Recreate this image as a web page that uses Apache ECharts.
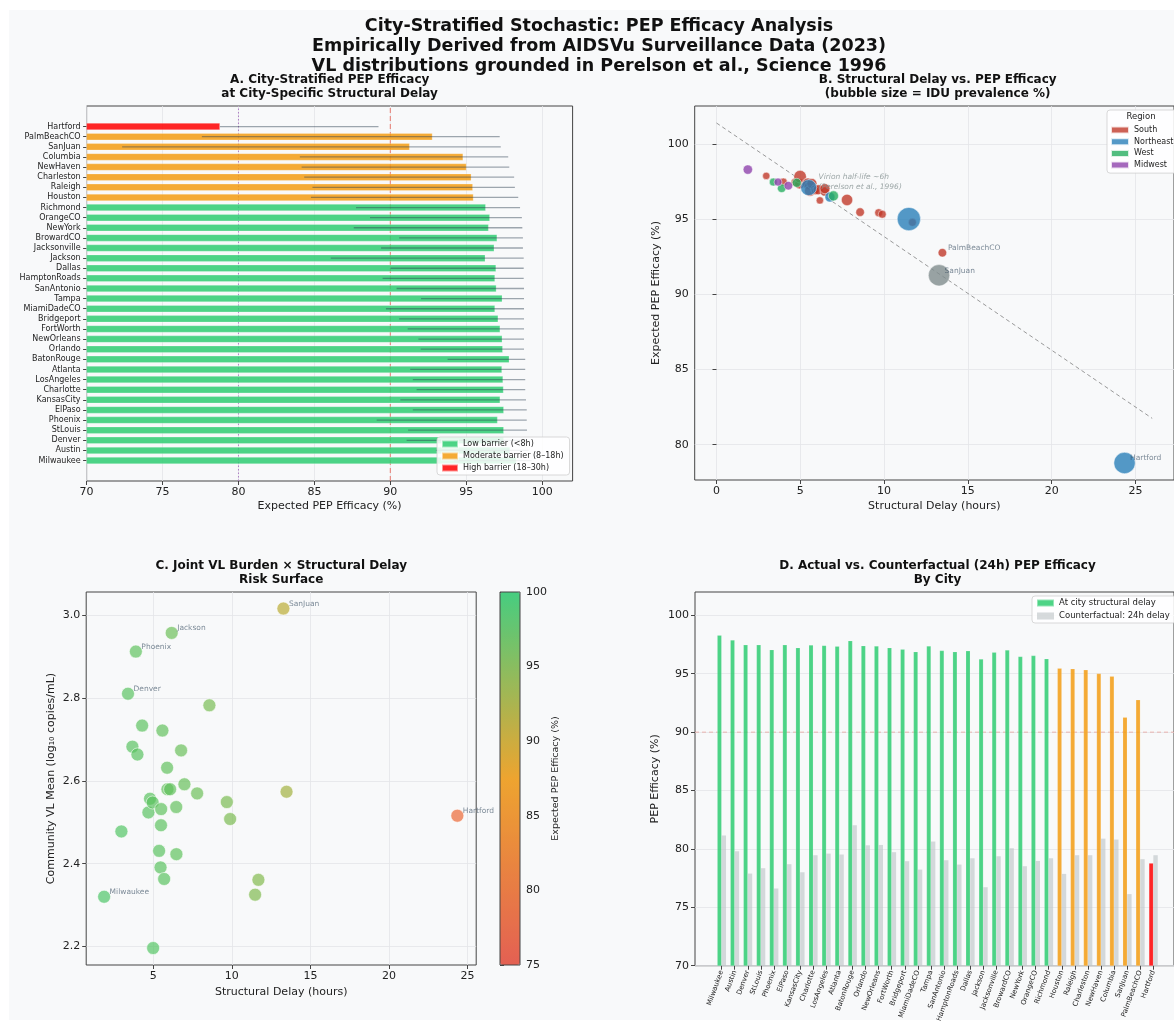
<!DOCTYPE html>
<html><head><meta charset="utf-8">
<script src="https://cdn.jsdelivr.net/npm/echarts@6/dist/echarts.min.js"></script>
<style>
html,body{margin:0;padding:0;background:#fff;overflow:hidden}
#bg{position:absolute;left:9px;top:10px;width:1165px;height:1010px;background:#f8f9fa}
#c{position:absolute;left:0;top:0;width:1174px;height:1028px}
</style>
</head><body><div id="bg"></div><div id="c"></div>
<script>
// ---------------- DATA (ordered by structural delay, ascending) ----------------
const cities = ['Milwaukee','Austin','Denver','StLouis','Phoenix','ElPaso','KansasCity','Charlotte','LosAngeles','Atlanta','BatonRouge','Orlando','NewOrleans','FortWorth','Bridgeport','MiamiDadeCO','Tampa','SanAntonio','HamptonRoads','Dallas','Jackson','Jacksonville','BrowardCO','NewYork','OrangeCO','Richmond','Houston','Raleigh','Charleston','NewHaven','Columbia','SanJuan','PalmBeachCO','Hartford'];
const delayH = [1.87,2.97,3.39,3.67,3.89,3.99,4.29,4.69,4.79,4.96,4.99,5.37,5.46,5.49,5.50,5.58,5.69,5.88,5.90,6.07,6.17,6.46,6.47,6.77,6.98,7.79,8.57,9.68,9.89,11.48,11.69,13.28,13.48,24.35];
const vlMean = [2.320,2.478,2.811,2.683,2.913,2.664,2.734,2.524,2.557,2.548,2.196,2.431,2.391,2.493,2.532,2.722,2.363,2.632,2.580,2.580,2.958,2.537,2.423,2.674,2.592,2.570,2.783,2.549,2.508,2.325,2.361,3.017,2.574,2.516];
const efficacy = [98.30,97.88,97.47,97.47,97.06,97.47,97.23,97.45,97.42,97.35,97.83,97.40,97.37,97.23,97.10,96.89,97.37,96.98,96.89,96.96,96.25,96.84,97.03,96.47,96.55,96.28,95.47,95.43,95.33,95.01,94.79,91.27,92.77,78.78];
const efficacy24h = [81.14,79.80,77.89,78.35,76.61,78.69,78.00,79.46,79.60,79.52,82.02,80.31,80.34,79.72,78.95,78.23,80.63,79.03,78.66,79.20,76.72,79.37,80.06,78.52,78.97,79.20,77.86,79.46,79.46,80.88,80.80,76.13,79.12,79.46];
const ciLow = [94.2,93.0,91.07,91.17,89.10,91.48,90.66,91.73,91.48,91.31,93.77,92.00,91.85,91.14,90.58,89.71,92.02,90.41,89.49,90.02,86.08,89.39,90.58,87.59,88.66,87.74,84.77,84.87,84.33,84.16,84.04,72.34,77.59,78.78];
const ciHigh = [99.3,99.1,99.0,99.0,98.98,98.98,98.93,98.88,98.88,98.88,98.88,98.80,98.80,98.80,98.80,98.80,98.80,98.80,98.78,98.78,98.78,98.73,98.73,98.69,98.66,98.54,98.42,98.20,98.15,97.83,97.76,97.27,97.20,89.22];
const iduPct = [5.5,3.4,4.0,4.0,4.6,4.0,4.6,4.0,5.1,6.3,9.9,5.1,7.6,4.0,16.0,7.6,6.5,5.1,4.0,6.3,3.4,5.1,6.3,6.3,6.3,8.1,4.6,4.0,4.0,34.0,4.0,28.6,4.6,28.6];
const region = ['Midwest','South','West','Midwest','West','South','Midwest','South','West','South','South','South','South','South','Northeast','South','South','South','South','South','South','South','South','Northeast','West','South','South','South','South','Northeast','South','Other','South','Northeast'];
const thresholds = [80, 90];
const trendX = [0, 26];
const trendY = [101.4, 81.75];
const annotPos = [6.06, 97.47];
const annotText = 'Virion half-life ~6h\n(Perelson et al., 1996)';
const labelledB = ['PalmBeachCO','SanJuan','Hartford'];
const labelledC = ['SanJuan','Jackson','Phoenix','Denver','Milwaukee','Hartford'];
const barrierNames = ['Low barrier (<8h)','Moderate barrier (8–18h)','High barrier (18–30h)'];
const regionNames = ['South','Northeast','West','Midwest'];
const dNames = ['At city structural delay','Counterfactual: 24h delay'];
// tick labels
const ticksEff = [70,75,80,85,90,95,100];
const ticksDelayB = [0,5,10,15,20,25];
const ticksEffB = [80,85,90,95,100];
const ticksDelayC = [5,10,15,20,25];
const ticksVL = [2.2,2.4,2.6,2.8,3.0];
const ticksCbar = [75,80,85,90,95,100];

// ---------------- STYLE ----------------
const F = 'DejaVu Sans';
const GREEN = 'rgba(46,204,113,0.85)', ORANGE = 'rgba(243,156,18,0.85)', RED = 'rgba(255,0,0,0.85)';
const classColors = [GREEN, ORANGE, RED];
const barrierClass = d => d < 8 ? 0 : (d < 18 ? 1 : 2);
const regionColors = {South:'#c0392b', Northeast:'#2980b9', West:'#27ae60', Midwest:'#8e44ad', Other:'#7f8c8d'};
const GRIDC = '#e3e5e8';

function valAxis(gi, min, max, ticks, dec, extra) {
  return Object.assign({
    type:'value', gridIndex:gi, min:min, max:max,
    axisLine:{show:false},
    axisTick:{show:true, length:4, lineStyle:{color:'#444'}, customValues:ticks},
    axisLabel:{color:'#222', fontSize:11, fontFamily:F, margin:6, customValues:ticks, formatter:v => (+v).toFixed(dec)},
    splitLine:{show:true, lineStyle:{color:GRIDC, width:0.8}},
    nameTextStyle:{color:'#222', fontSize:11, fontFamily:F},
    nameLocation:'middle'
  }, extra || {});
}
const frame = {show:true, backgroundColor:'#f8f9fa', borderColor:'#444', borderWidth:1};

const grids = [
  Object.assign({left:86.6, top:106, width:486, height:375}, frame),          // 0 A frame
  {left:86.6, top:121.5, width:486, height:344.1, show:false},                 // 1 A bars
  Object.assign({left:694.7, top:106, width:486, height:374}, frame),          // 2 B
  Object.assign({left:86.2, top:592, width:390, height:373}, frame),           // 3 C
  {left:500, top:592, width:20, height:373, show:true, backgroundColor:'rgba(0,0,0,0)', borderColor:'#444', borderWidth:1, z:10}, // 4 colorbar
  Object.assign({left:695, top:592, width:485, height:373.7}, frame),          // 5 D frame
  {left:715.1, top:592, width:444.8, height:373.7, show:false}                 // 6 D bars
];

const xAxes = [
  valAxis(0, 70, 102, ticksEff, 0, {name:'Expected PEP Efficacy (%)', nameGap:20}),
  {type:'value', gridIndex:1, min:70, max:102, show:false},
  valAxis(2, -1.3, 27.3, ticksDelayB, 0, {name:'Structural Delay (hours)', nameGap:21}),
  valAxis(3, 0.73, 25.55, ticksDelayC, 0, {name:'Structural Delay (hours)', nameGap:22}),
  {type:'value', gridIndex:4, min:0, max:1, show:false},
  {type:'value', gridIndex:5, min:0, max:1, show:false},
  {type:'category', gridIndex:6, data:cities, axisLine:{show:false},
   axisTick:{show:true, alignWithLabel:true, interval:0, length:4, lineStyle:{color:'#444'}},
   axisLabel:{interval:0, rotate:70, fontSize:7, fontFamily:F, color:'#222', margin:5},
   splitLine:{show:false}}
];
const yAxes = [
  {type:'value', gridIndex:0, min:0, max:1, show:false},
  {type:'category', gridIndex:1, data:cities, axisLine:{show:false},
   axisTick:{show:true, alignWithLabel:true, interval:0, length:3.5, lineStyle:{color:'#444'}},
   axisLabel:{interval:0, fontSize:8, fontFamily:F, color:'#222', margin:6}, splitLine:{show:false}},
  valAxis(2, 77.65, 102.53, ticksEffB, 0, {name:'Expected PEP Efficacy (%)', nameGap:33}),
  valAxis(3, 2.155, 3.057, ticksVL, 1, {name:'Community VL Mean (log₁₀ copies/mL)', nameGap:30}),
  valAxis(4, 75, 100, ticksCbar, 0, {position:'right', splitLine:{show:false}, name:'Expected PEP Efficacy (%)', nameRotate:90, nameGap:31, nameTextStyle:{color:'#222', fontSize:9.5, fontFamily:F}}),
  valAxis(5, 70, 102, ticksEff, 0, {name:'PEP Efficacy (%)', nameGap:34}),
  {type:'value', gridIndex:6, min:70, max:102, show:false}
];

const series = [];
// ---- A: threshold lines
series.push({type:'line', xAxisIndex:0, yAxisIndex:0, data:[[thresholds[0],0],[thresholds[0],1]], symbol:'none', silent:true, z:1,
  lineStyle:{color:'rgba(155,89,182,0.75)', type:[1.5,2], width:1}});
series.push({type:'line', xAxisIndex:0, yAxisIndex:0, data:[[thresholds[1],0],[thresholds[1],1]], symbol:'none', silent:true, z:1,
  lineStyle:{color:'rgba(231,76,60,0.6)', type:[5,3], width:1.2}});
// ---- A: bars by barrier class
barrierNames.forEach((nm, k) => series.push({
  type:'bar', name:nm, xAxisIndex:1, yAxisIndex:1, barWidth:7, barGap:'-100%', z:2,
  data: efficacy.map((v, i) => barrierClass(delayH[i]) === k ? v : '-'),
  itemStyle:{color:classColors[k], borderColor:'rgba(255,255,255,0.5)', borderWidth:0.5}
}));
// ---- A: uncertainty intervals
series.push({type:'custom', xAxisIndex:1, yAxisIndex:1, silent:true, z:3, encode:{x:[0,1], y:2},
  data: cities.map((c, i) => [ciLow[i], ciHigh[i], i]),
  renderItem: (params, api) => {
    const a = api.coord([Math.max(api.value(0), 70), api.value(2)]);
    const b = api.coord([api.value(1), api.value(2)]);
    return {type:'line', shape:{x1:a[0], y1:a[1], x2:b[0], y2:b[1]}, style:{stroke:'rgba(44,62,80,0.45)', lineWidth:1.3}};
  }});
// ---- B: trend line
series.push({type:'line', xAxisIndex:2, yAxisIndex:2, data: trendX.map((x, i) => [x, trendY[i]]), symbol:'none', silent:true, z:2,
  lineStyle:{color:'rgba(120,120,120,0.75)', type:[4,3], width:1}});
// ---- B: bubbles per region
['South','Northeast','West','Midwest','Other'].forEach(r => series.push({
  type:'scatter', name:r, xAxisIndex:2, yAxisIndex:2, z:3,
  data: cities.map((c, i) => region[i] === r ? [delayH[i], efficacy[i], iduPct[i], c] : null).filter(Boolean),
  symbolSize: v => 4 * Math.sqrt(v[2]),
  itemStyle:{color:regionColors[r], opacity:0.8, borderColor:'#fff', borderWidth:0.6}
}));
// ---- B: annotation
series.push({type:'scatter', xAxisIndex:2, yAxisIndex:2, data:[annotPos], symbolSize:1, silent:true, z:5,
  itemStyle:{color:'rgba(0,0,0,0)'},
  label:{show:true, formatter:annotText, position:'right', distance:0, fontFamily:F, fontStyle:'italic', fontSize:7.5, lineHeight:10, color:'rgba(127,140,141,0.95)'}});
// ---- B: city labels
series.push({type:'scatter', xAxisIndex:2, yAxisIndex:2, silent:true, z:6, symbolSize:1, itemStyle:{color:'rgba(0,0,0,0)'},
  data: labelledB.map(c => { const i = cities.indexOf(c); return [delayH[i], efficacy[i], c]; }),
  label:{show:true, formatter:p => p.value[2], position:'right', distance:5, offset:[0,-4.5], fontFamily:F, fontSize:7.5, color:'rgba(52,73,94,0.8)'}});
// ---- C: scatter coloured by efficacy
const idxC = series.length;
series.push({type:'scatter', xAxisIndex:3, yAxisIndex:3, z:3, symbolSize:13,
  data: cities.map((c, i) => [delayH[i], vlMean[i], efficacy[i], c]),
  itemStyle:{borderColor:'rgba(255,255,255,0.9)', borderWidth:0.8}});
series.push({type:'scatter', xAxisIndex:3, yAxisIndex:3, silent:true, z:6, symbolSize:1, itemStyle:{color:'rgba(0,0,0,0)'},
  data: labelledC.map(c => { const i = cities.indexOf(c); return [delayH[i], vlMean[i], c]; }),
  label:{show:true, formatter:p => p.value[2], position:'right', distance:5, offset:[0,-4.5], fontFamily:F, fontSize:7.5, color:'rgba(52,73,94,0.8)'}});
// ---- D: 90% line
series.push({type:'line', xAxisIndex:5, yAxisIndex:5, data:[[0,thresholds[1]],[1,thresholds[1]]], symbol:'none', silent:true, z:1,
  lineStyle:{color:'rgba(231,76,60,0.45)', type:[4,3], width:0.8}});
// ---- D: bars
series.push({type:'bar', name:dNames[0], xAxisIndex:6, yAxisIndex:6, barWidth:4.4, barGap:'0%', z:2,
  data: efficacy.map((v, i) => ({value:v, itemStyle:{color:classColors[barrierClass(delayH[i])]}})),
  itemStyle:{color:GREEN, borderColor:'rgba(255,255,255,0.4)', borderWidth:0.4}});
series.push({type:'bar', name:dNames[1], xAxisIndex:6, yAxisIndex:6, barWidth:4.4, barGap:'0%', z:2,
  data: efficacy24h, itemStyle:{color:'rgba(189,195,199,0.62)'}});

const legBase = {orient:'vertical', icon:'rect', itemWidth:16, itemHeight:7, selectedMode:false,
  backgroundColor:'rgba(255,255,255,0.85)', borderColor:'#cfcfcf', borderWidth:0.8, borderRadius:3,
  textStyle:{fontFamily:F, fontSize:8, color:'#222', lineHeight:10}};

const titleText = (x, y, txt, size, lh) => ({type:'text', x:x, y:y, z:100, silent:true,
  style:{text:txt, fontFamily:F, fontWeight:'bold', fontSize:size, lineHeight:lh, fill:'#111', align:'center', verticalAlign:'top'}});

const option = {
  animation:false,
  backgroundColor:'rgba(0,0,0,0)',
  grid:grids, xAxis:xAxes, yAxis:yAxes, series:series,
  visualMap:[{type:'continuous', seriesIndex:idxC, dimension:2, min:75, max:100, left:500, top:592,
    itemWidth:20, itemHeight:373, calculable:false, text:null, padding:0, hoverLink:false, showLabel:false,
    inRange:{color:['rgba(231,76,60,0.85)','rgba(243,156,18,0.85)','rgba(46,204,113,0.85)']},
    textStyle:{fontSize:1, color:'rgba(0,0,0,0)'}}],
  legend:[
    Object.assign({}, legBase, {data:barrierNames, left:437, top:437, itemGap:2, padding:[2,6,2,4]}),
    Object.assign({}, legBase, {data:regionNames, left:1107, top:110, itemGap:1.7, itemWidth:18, padding:[15,8,3,3]}),
    Object.assign({}, legBase, {data:dNames, left:1032, top:596, itemGap:3, itemWidth:17, padding:[2,6,2,4], textStyle:{fontFamily:F, fontSize:8.5, color:'#222', lineHeight:10}})
  ],
  graphic:[
    titleText(599, 16, 'City-Stratified Stochastic: PEP Efficacy Analysis\nEmpirically Derived from AIDSVu Surveillance Data (2023)\nVL distributions grounded in Perelson et al., Science 1996', 17.5, 20),
    titleText(329.6, 73, 'A. City-Stratified PEP Efficacy\nat City-Specific Structural Delay', 12, 14),
    titleText(937.7, 73, 'B. Structural Delay vs. PEP Efficacy\n(bubble size = IDU prevalence %)', 12, 14),
    titleText(281.2, 559, 'C. Joint VL Burden × Structural Delay\nRisk Surface', 12, 14),
    titleText(937.5, 559, 'D. Actual vs. Counterfactual (24h) PEP Efficacy\nBy City', 12, 14),
    {type:'text', x:1141, y:117, z:100, silent:true, style:{text:'Region', fontFamily:F, fontSize:8.5, fill:'#222', align:'center', verticalAlign:'middle'}}
  ]
};
const chart = echarts.init(document.getElementById('c'), null, {renderer:'canvas'});
chart.setOption(option);
</script>
</body></html>
